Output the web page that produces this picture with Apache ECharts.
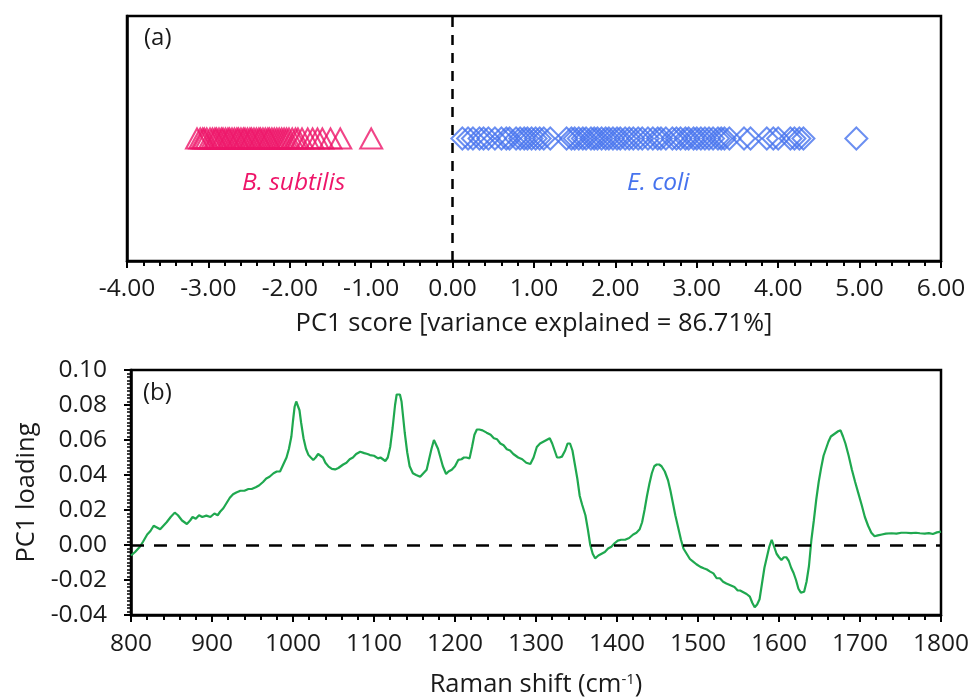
<!DOCTYPE html>
<html>
<head>
<meta charset="utf-8">
<script src="https://cdn.jsdelivr.net/npm/echarts@6/dist/echarts.min.js"></script>
<style>
html,body{margin:0;padding:0;background:#fff;}
#chart{width:973px;height:700px;}
</style>
</head>
<body>
<div id="chart"></div>
<script>
// ---- Data ----
var bSubtilisScores = [-3.14,-3.10,-3.07,-3.05,-3.02,-2.98,-2.95,-2.92,-2.90,-2.87,-2.84,-2.82,-2.79,-2.76,-2.74,-2.71,-2.68,-2.65,-2.63,-2.60,-2.57,-2.55,-2.52,-2.49,-2.47,-2.44,-2.41,-2.38,-2.36,-2.33,-2.30,-2.27,-2.25,-2.22,-2.19,-2.16,-2.13,-2.10,-2.07,-2.04,-2.01,-1.97,-1.93,-1.90,-1.85,-1.78,-1.72,-1.66,-1.60,-1.50,-1.38,-1.00];
var eColiScores = [0.12,0.19,0.25,0.33,0.38,0.44,0.52,0.60,0.66,0.70,0.78,0.83,0.88,0.92,0.97,1.02,1.07,1.12,1.20,1.40,1.46,1.50,1.55,1.60,1.64,1.70,1.74,1.78,1.83,1.88,1.92,1.97,2.02,2.06,2.12,2.17,2.22,2.28,2.33,2.40,2.46,2.52,2.56,2.62,2.70,2.75,2.80,2.86,2.90,2.96,3.00,3.05,3.10,3.15,3.20,3.26,3.30,3.34,3.40,3.58,3.66,3.86,3.94,4.00,4.15,4.20,4.26,4.31,4.96];
var scoreRowLevel = 0.5;

var ramanShift = [800,805,811,815,820,824,828,832,836,840,844,849,854,858,863,869,873,876,880,884,888,893,898,903,907,910,914,918,922,926,930,935,940,945,949,954,958,963,967,971,976,980,984,988,992,995,998,1000,1002,1004,1006,1008,1010,1013,1016,1019,1022,1025,1028,1031,1034,1037,1040,1044,1048,1052,1056,1059,1062,1066,1070,1074,1078,1083,1088,1092,1095,1100,1105,1108,1111,1114,1117,1120,1123,1126,1128,1130,1132,1134,1136,1138,1141,1144,1148,1152,1157,1161,1165,1168,1171,1174,1176,1179,1182,1185,1189,1192,1196,1200,1204,1208,1211,1214,1218,1221,1224,1227,1230,1234,1239,1244,1248,1252,1256,1260,1264,1268,1272,1278,1283,1288,1293,1297,1301,1305,1309,1313,1317,1320,1323,1326,1329,1332,1336,1339,1342,1345,1348,1351,1354,1357,1361,1364,1367,1370,1373,1377,1381,1385,1389,1393,1397,1401,1405,1410,1415,1420,1424,1428,1431,1434,1437,1440,1443,1446,1449,1452,1455,1459,1463,1466,1469,1472,1476,1479,1482,1486,1490,1494,1498,1503,1507,1511,1515,1519,1523,1527,1531,1535,1540,1545,1549,1552,1556,1560,1564,1567,1570,1573,1576,1579,1582,1585,1588,1591,1594,1597,1600,1603,1606,1609,1612,1615,1618,1621,1624,1627,1631,1634,1637,1640,1643,1646,1649,1652,1655,1658,1661,1664,1667,1670,1673,1676,1679,1682,1686,1690,1694,1698,1702,1706,1710,1714,1718,1722,1727,1732,1739,1745,1751,1757,1763,1769,1774,1780,1785,1790,1795,1800];
var pc1Loading = [-0.006,-0.004,-0.001,0.002,0.006,0.008,0.011,0.010,0.009,0.011,0.013,0.016,0.0185,0.017,0.014,0.012,0.014,0.016,0.015,0.017,0.016,0.0168,0.016,0.018,0.017,0.019,0.021,0.024,0.027,0.029,0.030,0.031,0.031,0.032,0.032,0.033,0.034,0.036,0.038,0.039,0.041,0.042,0.042,0.046,0.050,0.055,0.062,0.071,0.079,0.082,0.081,0.077,0.070,0.061,0.055,0.0515,0.050,0.0486,0.050,0.052,0.051,0.050,0.047,0.0448,0.0435,0.0432,0.044,0.045,0.046,0.047,0.049,0.050,0.052,0.0533,0.0525,0.052,0.0514,0.051,0.0495,0.050,0.049,0.048,0.050,0.056,0.067,0.080,0.086,0.087,0.086,0.082,0.073,0.064,0.053,0.045,0.041,0.040,0.039,0.041,0.043,0.049,0.055,0.060,0.059,0.055,0.050,0.045,0.0406,0.042,0.043,0.045,0.0486,0.049,0.050,0.050,0.0495,0.056,0.063,0.066,0.066,0.0655,0.0642,0.063,0.061,0.0604,0.058,0.057,0.0547,0.054,0.052,0.050,0.049,0.047,0.0463,0.050,0.056,0.058,0.059,0.060,0.061,0.058,0.054,0.050,0.050,0.0505,0.054,0.058,0.058,0.054,0.046,0.038,0.028,0.023,0.017,0.009,0.000,-0.005,-0.0076,-0.006,-0.005,-0.004,-0.002,-0.001,0.001,0.0025,0.003,0.003,0.004,0.006,0.007,0.009,0.013,0.020,0.028,0.035,0.041,0.045,0.046,0.046,0.045,0.042,0.037,0.031,0.024,0.017,0.009,0.003,-0.002,-0.005,-0.008,-0.0095,-0.011,-0.0125,-0.0133,-0.014,-0.0152,-0.0162,-0.019,-0.019,-0.021,-0.022,-0.023,-0.024,-0.026,-0.026,-0.027,-0.028,-0.0295,-0.033,-0.0356,-0.034,-0.031,-0.022,-0.013,-0.007,-0.001,0.003,-0.001,-0.005,-0.007,-0.0086,-0.007,-0.007,-0.009,-0.013,-0.016,-0.020,-0.025,-0.0272,-0.0267,-0.021,-0.012,0.003,0.014,0.026,0.036,0.044,0.051,0.055,0.059,0.062,0.063,0.064,0.065,0.0655,0.062,0.058,0.051,0.043,0.036,0.0295,0.023,0.016,0.011,0.007,0.005,0.0055,0.006,0.0065,0.0067,0.0065,0.007,0.007,0.0068,0.007,0.0067,0.0065,0.0068,0.0063,0.0072,0.0076];

var scoreTicks = {min: -4, max: 6, interval: 1};
var shiftTicks = {min: 800, max: 1800, interval: 100};
var loadingTicks = {min: -0.04, max: 0.10, interval: 0.02};

var scoreTitle = 'PC1 score [variance explained = 86.71%]';
var loadingTitle = 'PC1 loading';
var groupNames = ['B. subtilis', 'E. coli'];

// ---- Chart ----
var FONT = '"Open Sans", Lato, sans-serif';
var TXT = '#1a1a1a';
var PINK = '#EE1569';
var BLUE = '#4673EE';
var GREEN = '#1FA84F';
var TICK_FS = 24.5;
var TITLE_FS = 25.5;

var chart = echarts.init(document.getElementById('chart'), null, {renderer: 'canvas'});

function boxAxis(extra) {
  return Object.assign({
    axisLine: {show: true, onZero: false, lineStyle: {color: '#000', width: 2.5}},
    splitLine: {show: false}
  }, extra);
}

var option = {
  backgroundColor: '#fff',
  animation: false,
  textStyle: {fontFamily: FONT},
  grid: [
    {left: 127, top: 16, width: 814, height: 245, show: true, borderColor: '#000', borderWidth: 2.5, backgroundColor: 'transparent', containLabel: false},
    {left: 131, top: 370, width: 810, height: 245, show: true, borderColor: '#000', borderWidth: 2.5, backgroundColor: 'transparent', containLabel: false}
  ],
  xAxis: [
    boxAxis({
      type: 'value', gridIndex: 0, min: scoreTicks.min, max: scoreTicks.max, interval: scoreTicks.interval,
      axisTick: {show: true, inside: false, length: 7, lineStyle: {color: '#000', width: 2}},
      minorTick: {show: true, splitNumber: 5, length: 5, lineStyle: {color: '#000', width: 2}},
      axisLabel: {margin: 16, fontSize: TICK_FS, color: TXT, fontFamily: FONT, formatter: function (v) { return v.toFixed(2); }},
      name: scoreTitle, nameLocation: 'middle', nameGap: 50,
      nameTextStyle: {fontSize: TITLE_FS, color: TXT, fontFamily: FONT}
    }),
    boxAxis({
      type: 'value', gridIndex: 1, min: shiftTicks.min, max: shiftTicks.max, interval: shiftTicks.interval,
      axisTick: {show: true, inside: false, length: 7, lineStyle: {color: '#000', width: 2}},
      minorTick: {show: true, splitNumber: 5, length: 5, lineStyle: {color: '#000', width: 2}},
      axisLabel: {margin: 17, fontSize: TICK_FS, color: TXT, fontFamily: FONT, formatter: function (v) { return String(v); }},
      name: 'Raman shift (cm{sup|-1})', nameLocation: 'middle', nameGap: 57,
      nameTextStyle: {fontSize: TITLE_FS, color: TXT, fontFamily: FONT,
        rich: {sup: {fontSize: 15, verticalAlign: 'top', padding: [0, 0, 11, 0], color: TXT, fontFamily: FONT}}}
    })
  ],
  yAxis: [
    boxAxis({
      type: 'value', gridIndex: 0, min: 0, max: 1,
      axisTick: {show: false}, axisLabel: {show: false}
    }),
    boxAxis({
      type: 'value', gridIndex: 1, min: loadingTicks.min, max: loadingTicks.max, interval: loadingTicks.interval,
      axisTick: {show: true, inside: false, length: 7, lineStyle: {color: '#000', width: 2}},
      minorTick: {show: true, splitNumber: 10, length: 4, lineStyle: {color: '#000', width: 1.5}},
      axisLabel: {margin: 24, fontSize: TICK_FS, color: TXT, fontFamily: FONT, formatter: function (v) { return v.toFixed(2); }},
      name: loadingTitle, nameLocation: 'middle', nameGap: 88,
      nameTextStyle: {fontSize: TITLE_FS, color: TXT, fontFamily: FONT}
    })
  ],
  series: [
    {
      name: groupNames[0], type: 'scatter', xAxisIndex: 0, yAxisIndex: 0,
      symbol: 'triangle', symbolSize: [22, 20],
      itemStyle: {color: 'rgba(255,255,255,0)', borderColor: PINK, borderWidth: 2},
      data: bSubtilisScores.map(function (v) { return [v, scoreRowLevel]; }),
      markLine: {
        silent: true, symbol: 'none', label: {show: false},
        lineStyle: {color: '#000', width: 2.5, type: [10, 8]},
        data: [{xAxis: 0}]
      },
      z: 3
    },
    {
      name: groupNames[1], type: 'scatter', xAxisIndex: 0, yAxisIndex: 0,
      symbol: 'diamond', symbolSize: [22, 22],
      itemStyle: {color: 'rgba(255,255,255,0)', borderColor: BLUE, borderWidth: 2},
      data: eColiScores.map(function (v) { return [v, scoreRowLevel]; }),
      z: 3
    },
    {
      name: 'PC1 loading', type: 'line', xAxisIndex: 1, yAxisIndex: 1,
      showSymbol: false, symbol: 'none', smooth: false,
      lineStyle: {color: GREEN, width: 2.2},
      data: ramanShift.map(function (x, i) { return [x, pc1Loading[i]]; }),
      markLine: {
        silent: true, symbol: 'none', label: {show: false},
        lineStyle: {color: '#000', width: 2.5, type: [13, 10]},
        data: [{yAxis: 0}]
      },
      z: 3
    }
  ],
  graphic: [
    {type: 'text', left: 144, top: 26, style: {text: '(a)', font: '24px ' + FONT, fill: TXT}},
    {type: 'text', left: 143, top: 381, style: {text: '(b)', font: '24px ' + FONT, fill: TXT}},
    {type: 'text', left: 242, top: 171, style: {text: groupNames[0], font: 'italic 24.5px ' + FONT, fill: PINK}},
    {type: 'text', left: 627, top: 171, style: {text: groupNames[1], font: 'italic 24.5px ' + FONT, fill: BLUE}}
  ]
};

chart.setOption(option);
</script>
</body>
</html>
